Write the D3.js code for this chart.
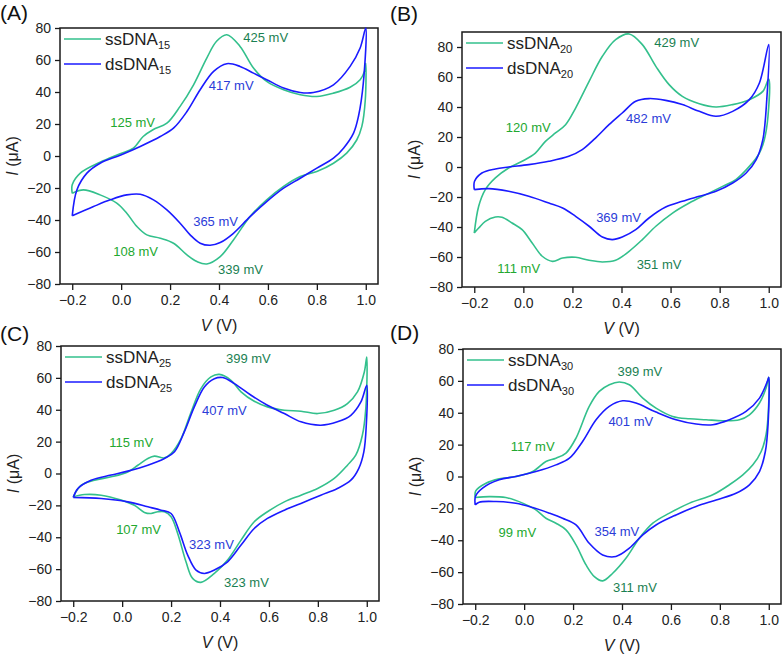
<!DOCTYPE html>
<html>
<head>
<meta charset="utf-8">
<script src="https://cdn.jsdelivr.net/npm/d3@7"></script>
<style>
  body { margin: 0; background: #fff; }
  svg { display: block; font-family: "Liberation Sans", Arial, sans-serif; }
</style>
</head>
<body>
<svg id="chart" width="783" height="655"></svg>
<script>
// ---------------- DATA ----------------
const panelLabels = ["(A)", "(B)", "(C)", "(D)"];
const lengths = ["15", "20", "25", "30"];
const xTicks = [-0.2, 0.0, 0.2, 0.4, 0.6, 0.8, 1.0];
const yTicks = [-80, -60, -40, -20, 0, 20, 40, 60, 80];

// Cyclic voltammograms: [V (V), I (µA)], forward sweep then reverse sweep
const ss15 = [[-0.2,-23.3],[-0.2,-18],[-0.167,-10.7],[-0.086,-3.9],[-0.004,1.4],[0.05,4.9],[0.09,12.2],[0.13,16.4],[0.187,20.5],[0.241,31],[0.296,44.5],[0.35,61.2],[0.39,71.7],[0.432,75.8],[0.486,68.5],[0.541,55],[0.595,46.6],[0.664,41.4],[0.732,38.3],[0.8,37.2],[0.868,39.3],[0.936,43],[0.977,47.7],[0.995,53],[1.0,58],
  [0.998,35],[0.984,18.5],[0.963,10],[0.922,1.8],[0.868,-4.5],[0.8,-9.7],[0.732,-12.8],[0.664,-19],[0.595,-27.4],[0.527,-37.8],[0.459,-52.5],[0.405,-62.9],[0.35,-67.5],[0.31,-66],[0.269,-61.8],[0.214,-54.5],[0.16,-51.4],[0.105,-49.3],[0.064,-44],[0.023,-35.8],[-0.018,-29.5],[-0.086,-24.3],[-0.154,-21.2],[-0.2,-23.3]];
const ds15 = [[-0.2,-37.4],[-0.181,-21.2],[-0.14,-10.7],[-0.086,-4.5],[-0.004,0.5],[0.078,6],[0.16,12.2],[0.214,17.4],[0.269,27.8],[0.323,41.4],[0.378,52.9],[0.432,57.7],[0.486,56],[0.541,51.8],[0.595,47.7],[0.664,42.5],[0.732,39.7],[0.786,39.7],[0.868,44.5],[0.936,56],[0.977,67.5],[1.0,80],
  [0.99,45.6],[0.97,24.7],[0.95,14.3],[0.909,4.9],[0.868,-1.4],[0.8,-7.6],[0.732,-13.9],[0.664,-20.1],[0.595,-28.5],[0.527,-37.9],[0.459,-48.3],[0.405,-54.1],[0.364,-55.8],[0.323,-54.5],[0.282,-49.3],[0.241,-42],[0.187,-33.7],[0.132,-27.4],[0.078,-23.9],[0.023,-24.3],[-0.045,-27.4],[-0.113,-31.6],[-0.2,-37.4]];
const ss20 = [[-0.2,-44],[-0.182,-26.2],[-0.155,-15.1],[-0.114,-7.3],[-0.06,-0.7],[-0.005,3.8],[0.049,9.3],[0.09,17.1],[0.131,22.7],[0.172,28.2],[0.213,39.3],[0.268,57.1],[0.322,73.8],[0.376,84.9],[0.431,88.7],[0.485,81.6],[0.54,67.1],[0.594,54.9],[0.648,47.1],[0.717,42.2],[0.785,40],[0.853,41.6],[0.921,44.9],[0.976,50.4],[1.0,58.7],
  [0.997,33.8],[0.982,18.2],[0.962,9.3],[0.921,0.4],[0.866,-8.4],[0.812,-12.9],[0.744,-18.4],[0.676,-24],[0.608,-30.7],[0.54,-39.5],[0.485,-48.4],[0.431,-56.2],[0.376,-62.2],[0.322,-63.3],[0.268,-62.2],[0.213,-60.2],[0.16,-60.7],[0.119,-62.9],[0.077,-59.5],[0.036,-50.7],[-0.005,-41.8],[-0.046,-37.3],[-0.087,-33.5],[-0.114,-33.3],[-0.155,-36.2],[-0.182,-40.7],[-0.2,-44]];
const ds20 = [[-0.2,-15.1],[-0.199,-9.5],[-0.169,-4],[-0.114,-1.3],[-0.06,0],[0.022,1.6],[0.104,3.8],[0.185,7.1],[0.24,11.6],[0.294,19.3],[0.349,28.2],[0.403,36],[0.458,43.8],[0.512,45.6],[0.58,44.4],[0.648,41.6],[0.717,37.1],[0.785,33.8],[0.853,37.1],[0.921,44.9],[0.962,56],[1.0,81.6],
  [0.992,44.9],[0.976,18.2],[0.949,4.9],[0.908,-4],[0.853,-10.7],[0.785,-16.2],[0.717,-19.5],[0.648,-22.9],[0.58,-26.7],[0.512,-34],[0.458,-41.8],[0.403,-46.7],[0.362,-48.4],[0.322,-46.7],[0.268,-39.5],[0.213,-32.9],[0.16,-27.3],[0.104,-24],[0.022,-19.5],[-0.06,-16.2],[-0.141,-14.4],[-0.2,-15.1]];
const ss25 = [[-0.2,-14.6],[-0.167,-7.3],[-0.113,-4.2],[-0.045,-2.1],[0.023,1],[0.064,5.2],[0.105,9.4],[0.132,10.9],[0.173,9.8],[0.2,12.5],[0.241,21.9],[0.282,38.6],[0.322,53.3],[0.363,60.6],[0.397,62.2],[0.445,58.5],[0.486,51.2],[0.54,45.3],[0.594,41.8],[0.663,39.7],[0.731,39.1],[0.799,37.6],[0.867,39.7],[0.921,43.9],[0.962,51.2],[0.99,63.7],[1.0,73.1],
  [0.996,40.7],[0.982,24],[0.955,11.5],[0.921,5.2],[0.867,-3.1],[0.799,-9.4],[0.731,-13.6],[0.663,-17.8],[0.594,-24],[0.54,-30.3],[0.486,-41.8],[0.431,-54.3],[0.377,-62.7],[0.322,-68.3],[0.288,-65.8],[0.261,-55.4],[0.227,-37.6],[0.2,-27.2],[0.173,-24],[0.146,-24],[0.118,-25.1],[0.091,-24.4],[0.05,-19.9],[-0.004,-16.7],[-0.086,-13.6],[-0.154,-13.2],[-0.2,-14.6]];
const ds25 = [[-0.2,-15],[-0.181,-9.4],[-0.127,-4.2],[-0.045,-1],[0.023,1.5],[0.105,5.2],[0.173,9.4],[0.214,13.6],[0.254,26.1],[0.295,41.8],[0.336,54.3],[0.377,59.5],[0.411,60.2],[0.459,56.4],[0.527,49.1],[0.594,42.8],[0.663,37.6],[0.731,32.4],[0.812,30.3],[0.88,32.4],[0.935,36.5],[0.976,44.9],[1.0,55.3],
  [0.998,30.3],[0.988,13.6],[0.967,3.1],[0.935,-4.2],[0.88,-9.4],[0.812,-13.6],[0.731,-18.8],[0.663,-23],[0.594,-28.2],[0.54,-34.5],[0.486,-44.9],[0.431,-55.4],[0.377,-60.6],[0.336,-62.7],[0.302,-60.6],[0.268,-51.2],[0.234,-36.6],[0.2,-25.1],[0.159,-23],[0.105,-20.9],[0.023,-17.8],[-0.086,-15.7],[-0.2,-15]];
const ss30 = [[-0.2,-13.2],[-0.198,-9],[-0.156,-4.2],[-0.102,-1.5],[-0.034,0],[0.035,3.1],[0.089,9.4],[0.13,11.5],[0.171,14.7],[0.212,24.1],[0.266,44],[0.307,53.4],[0.348,57.6],[0.389,59.3],[0.43,57.6],[0.485,49.2],[0.539,42.9],[0.607,37.7],[0.676,36.2],[0.744,35.6],[0.812,35],[0.88,35.6],[0.921,38.7],[0.962,46.1],[0.989,55.5],[1.0,62.2],
  [0.999,42.9],[0.989,26.2],[0.969,15.7],[0.935,7.3],[0.894,1],[0.839,-5.2],[0.771,-11.5],[0.676,-16.7],[0.594,-23],[0.526,-29.3],[0.471,-38.7],[0.416,-51.3],[0.362,-60.7],[0.321,-65.5],[0.287,-62.8],[0.253,-55.5],[0.212,-42.9],[0.171,-33.5],[0.13,-29.3],[0.089,-26.2],[0.048,-20.9],[-0.006,-16.7],[-0.075,-13.2],[-0.143,-12.6],[-0.2,-13.2]];
const ds30 = [[-0.2,-17.8],[-0.199,-12.5],[-0.17,-7.3],[-0.102,-2.1],[-0.034,0],[0.048,3.1],[0.13,7.3],[0.185,11.5],[0.239,22],[0.294,35.6],[0.348,44],[0.403,47.5],[0.457,46.1],[0.539,40.4],[0.621,35.6],[0.703,32.9],[0.771,32.5],[0.839,35.6],[0.907,40.8],[0.962,49.2],[0.995,60],[1.0,62.2],
  [0.997,32.5],[0.986,15.7],[0.962,3.1],[0.921,-5.2],[0.866,-10.5],[0.785,-14.7],[0.703,-18.8],[0.621,-24.1],[0.539,-30.4],[0.485,-36.6],[0.43,-45],[0.375,-50.2],[0.321,-49.2],[0.266,-41.9],[0.212,-30.4],[0.157,-26.2],[0.103,-23],[0.035,-19.5],[-0.034,-16.8],[-0.115,-15.7],[-0.184,-16.1],[-0.2,-17.8]];

// Peak annotations: [text, V anchor, I anchor, kind]
const peaks15 = [["425 mV",0.591,73.9,"ssMain"],["417 mV",0.45,43.9,"ds"],["125 mV",0.047,20.8,"ssMinor"],["365 mV",0.386,-41.1,"ds"],["108 mV",0.059,-59.8,"ssMinor"],["339 mV",0.488,-71.1,"ssMain"]];
const peaks20 = [["429 mV",0.625,82.9,"ssMain"],["482 mV",0.51,32.2,"ds"],["120 mV",0.02,26.2,"ssMinor"],["369 mV",0.388,-33.8,"ds"],["111 mV",-0.019,-67.8,"ssMinor"],["351 mV",0.553,-65.1,"ssMain"]];
const peaks25 = [["399 mV",0.516,72.3,"ssMain"],["407 mV",0.418,39.7,"ds"],["115 mV",0.037,19.7,"ssMinor"],["107 mV",0.067,-34.9,"ssMinor"],["323 mV",0.365,-44.3,"ds"],["323 mV",0.508,-68.7,"ssMain"]];
const peaks30 = [["399 mV",0.473,65.7,"ssMain"],["401 mV",0.436,34.3,"ds"],["117 mV",0.035,18.6,"ssMinor"],["99 mV",-0.028,-35.4,"ssMinor"],["354 mV",0.379,-34.8,"ds"],["311 mV",0.453,-69.9,"ssMain"]];

const ssSeries = [ss15, ss20, ss25, ss30];
const dsSeries = [ds15, ds20, ds25, ds30];
const peakSets = [peaks15, peaks20, peaks25, peaks30];
const yMaxes = [80, 90, 80, 80];

// ---------------- LAYOUT / STYLE ----------------
const frames = [
  {x: 60, y: 28, w: 318, h: 256},
  {x: 462, y: 32, w: 319, h: 255},
  {x: 61, y: 346, w: 318, h: 255},
  {x: 463, y: 349, w: 318, h: 255}
];
const labelPos = [[0, 20], [390, 21], [0, 341], [390, 340]];
const colors = {ss: "#33c08c", ds: "#1a1aff", ssMain: "#1a7f52", ssMinor: "#22a830", dsText: "#2b3cd8"};

const svg = d3.select("#chart");

frames.forEach((f, i) => {
  const x = d3.scaleLinear().domain([-0.25, 1.05]).range([f.x, f.x + f.w]);
  const y = d3.scaleLinear().domain([-80, yMaxes[i]]).range([f.y + f.h, f.y]);
  const g = svg.append("g");

  // panel label
  svg.append("text").attr("x", labelPos[i][0]).attr("y", labelPos[i][1])
    .attr("font-size", 21).attr("fill", "#111").text(panelLabels[i]);

  // x axis
  const xMinor = d3.range(-0.2, 1.01, 0.1).map(v => +v.toFixed(2));
  const xAx = g.append("g").attr("transform", `translate(0,${f.y + f.h})`);
  xAx.call(d3.axisBottom(x).tickValues(xMinor).tickSize(3).tickFormat(""));
  xAx.call(d3.axisBottom(x).tickValues(xTicks).tickSize(6).tickPadding(5).tickFormat(d3.format(".1f")));
  // y axis
  const yMinor = d3.range(-80, yMaxes[i] + 0.1, 10);
  const yAx = g.append("g").attr("transform", `translate(${f.x},0)`);
  yAx.call(d3.axisLeft(y).tickValues(yMinor).tickSize(3).tickFormat(""));
  yAx.call(d3.axisLeft(y).tickValues(yTicks).tickSize(5).tickPadding(4).tickFormat(d3.format("d")));

  g.selectAll(".domain").remove();
  g.selectAll(".tick line").attr("stroke", "#1a1a1a").attr("stroke-width", 1.3);
  g.selectAll(".tick text").attr("font-size", 14).attr("fill", "#222")
    .attr("font-family", "Liberation Sans, Arial, sans-serif");

  // frame
  g.append("rect").attr("x", f.x).attr("y", f.y).attr("width", f.w).attr("height", f.h)
    .attr("fill", "none").attr("stroke", "#1a1a1a").attr("stroke-width", 1.5);

  // curves
  const line = d3.line().x(d => x(d[0])).y(d => y(d[1])).curve(d3.curveCatmullRom.alpha(0.5));
  g.append("path").datum(ssSeries[i]).attr("d", line)
    .attr("fill", "none").attr("stroke", colors.ss).attr("stroke-width", 1.6).attr("stroke-linejoin", "round");
  g.append("path").datum(dsSeries[i]).attr("d", line)
    .attr("fill", "none").attr("stroke", colors.ds).attr("stroke-width", 1.6).attr("stroke-linejoin", "round");

  // peak labels
  peakSets[i].forEach(p => {
    const c = p[3] === "ds" ? colors.dsText : colors[p[3]];
    g.append("text").attr("x", x(p[1])).attr("y", y(p[2]))
      .attr("text-anchor", "middle").attr("dominant-baseline", "central")
      .attr("font-size", 13).attr("fill", c).text(p[0]);
  });

  // legend
  [["ss", "ssDNA"], ["ds", "dsDNA"]].forEach((l, k) => {
    const ly = f.y + 11 + k * 25;
    g.append("line").attr("x1", f.x + 4).attr("x2", f.x + 41).attr("y1", ly).attr("y2", ly)
      .attr("stroke", colors[l[0]]).attr("stroke-width", 1.6);
    const t = g.append("text").attr("x", f.x + 45).attr("y", ly + 6).attr("font-size", 17).attr("fill", "#222");
    t.append("tspan").text(l[1]);
    t.append("tspan").attr("font-size", 11).attr("dy", 4).text(lengths[i]);
  });

  // axis titles
  const xt = g.append("text").attr("x", f.x + f.w / 2).attr("y", f.y + f.h + 47)
    .attr("text-anchor", "middle").attr("font-size", 16).attr("fill", "#222");
  xt.append("tspan").attr("font-style", "italic").text("V");
  xt.append("tspan").text(" (V)");
  const yt = g.append("text")
    .attr("transform", `translate(${f.x - 42},${f.y + f.h / 2}) rotate(-90)`)
    .attr("text-anchor", "middle").attr("font-size", 16).attr("fill", "#222");
  yt.append("tspan").attr("font-style", "italic").text("I");
  yt.append("tspan").text(" (μA)");
});
</script>
</body>
</html>
